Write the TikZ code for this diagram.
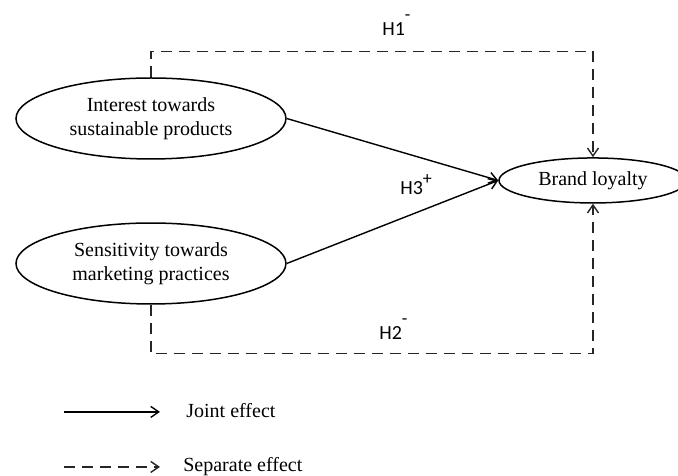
\documentclass[tikz,border=0pt]{standalone}
\usepackage{fontspec}
\setmainfont{Liberation Serif}
\newfontfamily\hypfont{Carlito}
\usetikzlibrary{arrows.meta, shapes.geometric}
\newcommand{\hypo}[3]{{\hypfont #1\raisebox{#3}{\small #2}}}

\begin{document}
\begin{tikzpicture}[
    construct/.style={ellipse, draw=black, line width=0.75pt, align=center, inner sep=0pt, minimum width=4.744cm, minimum height=1.423cm},
    outcome/.style={ellipse, draw=black, line width=0.75pt, align=center, inner sep=0pt, minimum width=3.303cm, minimum height=0.791cm},
    joint/.style={-{Straight Barb[length=4pt,width=5.5pt]}, line width=0.7pt},
    separate/.style={-{Straight Barb[length=4pt,width=5.5pt]}, line width=0.7pt, draw=black!85, dash pattern=on 5.5pt off 3.5pt},
    hyplabel/.style={anchor=base west, inner sep=0pt},
    legendtext/.style={anchor=base west, inner sep=0pt}
]
\useasboundingbox (0,0) rectangle (11.914,-8.347);

\node[construct] (interest) at (2.653,-2.082) {Interest towards\\sustainable products};
\node[construct] (sensitivity) at (2.653,-4.630) {Sensitivity towards\\marketing practices};
\node[outcome] (loyalty) at (10.42,-3.171) {Brand loyalty};

\draw[joint] (interest.east) -- (loyalty.west);
\draw[joint] (sensitivity.east) -- (loyalty.west);
\draw[separate] (interest.north) -- ++(0,0.457) -| (loyalty.north);
\draw[separate] (sensitivity.south) -- ++(0,-0.861) -| (loyalty.south);

\node[hyplabel] (h1) at (6.712,-0.615) {\hypo{H1}{-}{7.3pt}};
\node[hyplabel] (h2) at (6.659,-5.957) {\hypo{H2}{-}{7.3pt}};
\node[hyplabel] (h3) at (7.028,-3.409) {\hypo{H3}{+}{4.8pt}};

\coordinate (jointA) at (1.124,-7.238);
\coordinate (jointB) at (2.811,-7.238);
\coordinate (separateA) at (1.124,-8.205);
\coordinate (separateB) at (2.811,-8.205);
\draw[joint] (jointA) -- (jointB);
\draw[separate] (separateA) -- (separateB);
\node[legendtext] (jointlbl) at (3.268,-7.344) {Joint effect};
\node[legendtext] (separatelbl) at (3.215,-8.293) {Separate effect};
\end{tikzpicture}
\end{document}
